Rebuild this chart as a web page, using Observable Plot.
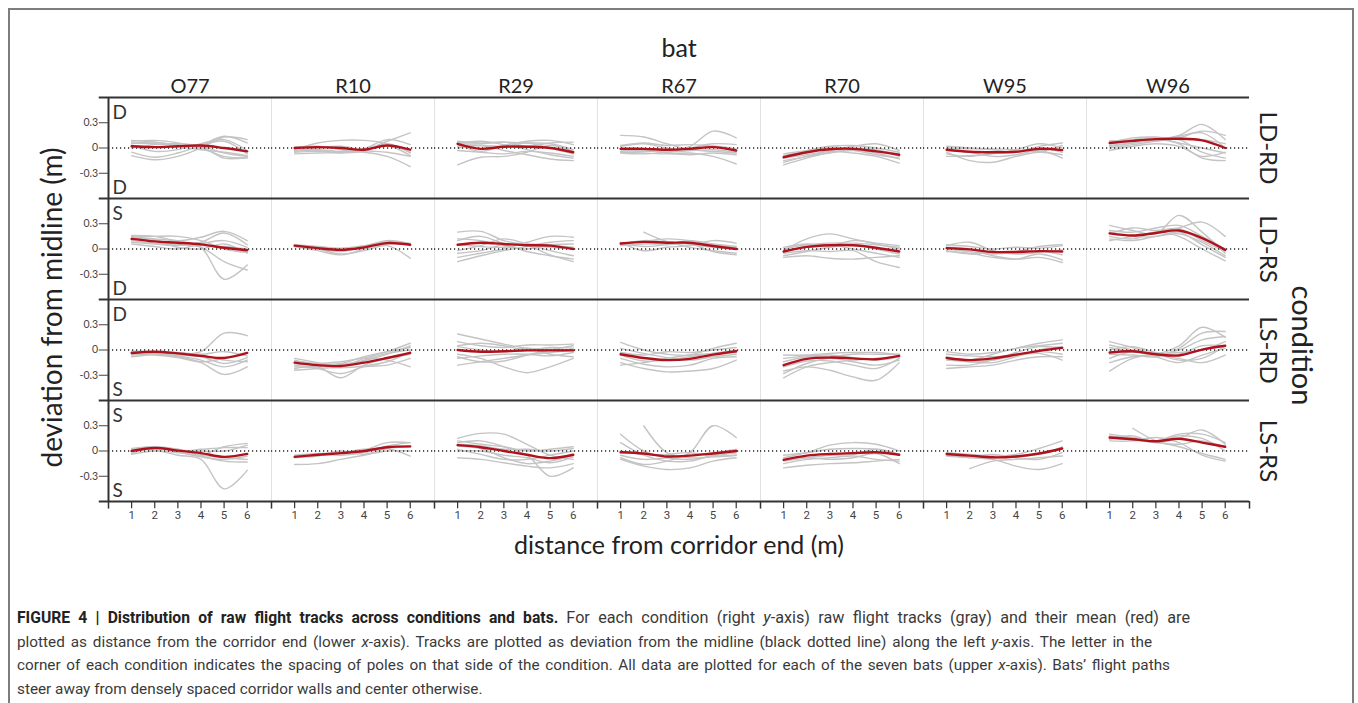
<!DOCTYPE html>
<html>
<head>
<meta charset="utf-8">
<script src="https://cdn.jsdelivr.net/npm/d3@7"></script>
<script src="https://cdn.jsdelivr.net/npm/@observablehq/plot@0.6"></script>
<style>
  html, body { margin: 0; padding: 0; background: #fff; overflow: hidden; width: 1358px; height: 703px; }
  #frame { position: absolute; left: 8px; top: 8px; width: 1346px; height: 740px; border: 2px solid #7d7d7d; box-sizing: border-box; }
  #chart { position: absolute; left: 0; top: 0; }
  #caption { position: absolute; left: 17px; top: 606px; font-family: Roboto, "Liberation Sans", sans-serif; font-size: 15.3px; line-height: 23.6px; color: #3a3a3a; }
  #caption .ln { white-space: nowrap; text-align: justify; text-align-last: justify; }
  #caption .last { text-align: left; text-align-last: left; }
  #caption b { color: #222; font-size: 15.7px; }
  #caption .wide { font-size: 16.2px; }
</style>
</head>
<body>
<div id="frame"></div>
<div id="chart"></div>
<div id="caption">
<div class="ln" style="width:1173px"><b>FIGURE 4 | Distribution of raw flight tracks across conditions and bats.</b> <span class="wide">For each condition (right <i>y</i>-axis) raw flight tracks (gray) and their mean (red) are</span></div>
<div class="ln" style="width:1135px">plotted as distance from the corridor end (lower <i>x</i>-axis). Tracks are plotted as deviation from the midline (black dotted line) along the left <i>y</i>-axis. The letter in the</div>
<div class="ln" style="width:1153px">corner of each condition indicates the spacing of poles on that side of the condition. All data are plotted for each of the seven bats (upper <i>x</i>-axis). Bats’ flight paths</div>
<div class="ln last">steer away from densely spaced corridor walls and center otherwise.</div>
</div>
<script>
// ---------- categories & tick labels ----------
const bats = ["O77", "R10", "R29", "R67", "R70", "W95", "W96"];
const conditions = ["LD-RD", "LD-RS", "LS-RD", "LS-RS"];
const distances = [1, 2, 3, 4, 5, 6];
const yTicks = [-0.3, 0, 0.3];
const yTickLabels = ["-0.3", "0", "0.3"];
const cornerTop = ["D", "S", "D", "S"];     // spacing letter, upper corner, per condition
const cornerBottom = ["D", "D", "S", "S"];  // spacing letter, lower corner, per condition

// ---------- raw tracks (m), per bat, per condition [LD-RD, LD-RS, LS-RD, LS-RS], values at distances 1..6 ----------
const tracksO77 = [
  [[0.09,0.07,0.04,0.02,-0.06,-0.1],[0.08,0.09,0.06,0.0,-0.1,-0.12],[-0.09,-0.14,-0.1,0.0,0.13,0.1],[-0.05,-0.11,-0.06,0.03,0.14,0.06],[0.06,0.05,0.03,0.04,0.08,-0.07],[0.03,-0.04,-0.02,0.05,0.1,-0.03],[0.0,0.04,0.05,0.02,-0.12,-0.11],[0.05,0.07,0.02,-0.02,-0.05,-0.09]],
  [[0.14,0.15,0.15,0.1,0.0,-0.04],[0.13,0.12,0.09,0.02,-0.36,-0.19],[0.1,0.07,0.05,0.02,-0.15,-0.25],[0.16,0.15,0.1,0.14,0.21,0.1],[0.08,0.06,0.04,0.08,0.19,0.05],[0.12,0.1,0.02,0.0,0.06,-0.05],[0.15,0.11,0.05,0.04,0.03,0.0],[0.06,0.03,0.0,0.06,0.1,0.02]],
  [[-0.02,-0.03,-0.05,-0.02,0.2,0.17],[-0.06,-0.05,-0.08,-0.15,-0.29,-0.2],[-0.03,-0.04,-0.07,-0.12,-0.2,-0.12],[-0.01,-0.02,-0.03,-0.05,-0.02,-0.07],[-0.05,-0.06,-0.09,-0.14,-0.1,-0.04],[-0.04,-0.02,-0.06,-0.08,-0.16,-0.09],[-0.08,-0.05,-0.04,-0.06,-0.12,-0.14]],
  [[0.02,0.01,-0.05,-0.1,-0.45,-0.23],[-0.03,0.04,0.02,-0.04,0.05,0.09],[0.03,0.05,0.02,-0.06,-0.12,-0.13],[0.0,0.03,0.01,0.0,0.0,0.07],[-0.04,0.0,-0.02,-0.05,-0.08,-0.1],[0.01,0.05,0.0,0.02,0.04,0.04],[0.02,0.04,-0.01,-0.07,-0.1,-0.06]]
];
const tracksR10 = [
  [[-0.02,0.06,0.09,0.09,0.05,-0.05],[0.0,-0.03,-0.05,-0.02,0.08,0.18],[-0.05,-0.04,-0.06,-0.05,-0.1,-0.22],[-0.07,-0.06,-0.05,-0.02,0.03,-0.09],[0.01,0.02,-0.02,-0.04,0.05,-0.06],[-0.04,-0.02,-0.04,-0.01,0.1,0.04],[-0.03,0.0,0.02,-0.03,-0.05,-0.1]],
  [[0.04,0.0,-0.06,-0.02,0.04,-0.11],[0.03,-0.02,-0.07,0.0,0.09,0.06],[0.05,0.03,0.01,0.04,0.08,0.04],[0.03,0.0,-0.03,0.03,0.1,0.06],[0.04,0.02,0.0,0.01,0.06,0.07]],
  [[-0.1,-0.15,-0.2,-0.1,-0.02,0.08],[-0.22,-0.2,-0.33,-0.18,-0.1,-0.05],[-0.18,-0.22,-0.28,-0.2,-0.18,-0.1],[-0.13,-0.16,-0.14,-0.1,-0.12,-0.2],[-0.2,-0.2,-0.17,-0.13,-0.05,0.05],[-0.16,-0.19,-0.21,-0.19,-0.14,-0.02],[-0.24,-0.22,-0.2,-0.12,-0.04,0.0],[-0.12,-0.17,-0.16,-0.08,-0.02,0.03]],
  [[-0.16,-0.15,-0.1,-0.05,0.0,0.0],[-0.08,-0.05,-0.03,0.01,0.1,0.1],[-0.07,-0.06,0.0,-0.04,0.03,0.05],[-0.06,-0.04,-0.05,-0.02,0.06,0.1],[-0.05,-0.03,-0.02,0.02,0.03,-0.06]]
];
const tracksR29 = [
  [[0.08,0.06,0.07,0.06,0.05,-0.02],[-0.2,-0.11,-0.1,-0.05,0.03,-0.04],[0.04,-0.04,0.03,0.08,0.09,0.04],[0.02,0.03,-0.03,-0.08,-0.13,-0.15],[0.06,0.08,0.04,-0.02,-0.08,-0.12],[-0.03,-0.05,-0.07,-0.04,-0.06,-0.1],[0.05,0.05,0.07,0.02,0.06,0.07],[0.0,0.03,0.02,0.06,0.0,-0.07]],
  [[0.2,0.21,0.1,0.05,0.02,0.0],[-0.15,-0.08,-0.02,0.03,0.08,0.1],[-0.1,-0.05,0.0,0.08,0.15,0.14],[0.1,0.15,0.06,-0.03,-0.08,-0.12],[-0.05,-0.02,0.05,0.04,-0.07,-0.15],[0.05,0.03,0.02,0.06,0.04,0.02],[-0.02,0.04,0.12,0.06,-0.02,-0.08],[0.12,0.1,0.04,0.0,0.05,0.06]],
  [[0.19,0.13,0.07,0.02,0.01,0.0],[-0.18,-0.14,-0.1,-0.06,-0.03,0.0],[-0.05,-0.1,-0.2,-0.27,-0.2,-0.1],[0.1,0.05,0.03,0.06,0.06,0.07],[-0.08,-0.14,-0.13,-0.06,0.0,0.05],[0.04,0.0,-0.02,0.02,-0.05,-0.08],[-0.1,-0.07,-0.05,-0.05,-0.07,-0.03],[0.05,0.08,0.05,0.0,0.03,0.02]],
  [[0.15,0.21,0.2,0.08,-0.05,-0.1],[0.1,0.12,0.05,-0.05,-0.3,-0.2],[-0.08,-0.1,-0.14,-0.18,-0.2,-0.15],[0.06,0.03,-0.08,-0.15,-0.12,-0.05],[0.02,-0.04,-0.1,-0.1,-0.05,0.0],[0.12,0.08,0.05,0.0,0.02,0.05],[0.0,0.0,-0.05,-0.08,-0.14,-0.07],[0.08,0.06,0.02,0.02,0.0,0.03]]
];
const tracksR67 = [
  [[0.15,0.13,0.05,-0.02,-0.04,-0.06],[-0.02,-0.04,-0.03,0.02,0.2,0.12],[-0.05,-0.06,-0.07,-0.06,-0.1,-0.19],[0.02,0.05,0.0,-0.03,-0.02,-0.05],[-0.04,-0.03,-0.05,0.0,0.05,0.04],[0.0,-0.02,-0.06,-0.08,-0.06,-0.08],[-0.06,-0.07,-0.05,-0.03,0.02,-0.01],[0.03,0.06,0.03,0.04,0.02,-0.04]],
  [[null,0.2,0.09,0.06,0.02,0.0],[0.05,0.09,0.12,0.1,0.05,0.02],[0.07,0.03,0.05,0.06,-0.03,-0.07],[0.08,-0.02,0.02,0.04,0.1,0.07],[0.06,0.1,0.08,0.02,-0.02,-0.05],[0.04,0.06,0.06,0.1,0.06,0.03]],
  [[0.09,0.0,-0.05,-0.06,0.02,0.08],[-0.15,-0.22,-0.26,-0.25,-0.22,-0.12],[-0.03,-0.06,-0.02,-0.03,0.0,0.03],[-0.1,-0.17,-0.2,-0.18,-0.1,-0.08],[-0.06,-0.13,-0.12,-0.08,-0.04,-0.03],[0.02,-0.04,-0.09,-0.12,-0.08,-0.05],[-0.18,-0.15,-0.1,-0.06,-0.04,0.0]],
  [[0.2,0.0,-0.08,-0.1,-0.06,-0.02],[null,0.3,-0.02,-0.08,-0.07,-0.05],[-0.08,-0.16,-0.12,-0.02,0.3,0.16],[-0.1,-0.18,-0.22,-0.2,-0.12,-0.08],[0.1,-0.05,-0.12,-0.12,-0.05,0.0],[-0.05,-0.1,-0.08,-0.05,-0.02,0.02],[0.0,-0.04,-0.04,-0.02,-0.06,-0.05]]
];
const tracksR70 = [
  [[-0.2,-0.12,-0.05,-0.02,-0.06,-0.13],[-0.07,-0.03,0.02,0.03,0.0,-0.05],[-0.15,-0.1,-0.03,0.02,0.05,-0.03],[-0.12,-0.08,-0.04,-0.06,-0.1,-0.18],[-0.09,-0.04,0.0,0.0,-0.02,-0.1],[-0.17,-0.1,-0.06,-0.03,-0.08,-0.12],[-0.1,-0.06,0.01,-0.01,-0.03,-0.07]],
  [[-0.02,0.12,0.18,0.12,0.06,0.0],[-0.1,-0.08,-0.11,-0.12,-0.1,-0.08],[-0.05,-0.02,-0.03,-0.02,-0.15,-0.22],[0.0,0.05,0.07,0.07,0.05,0.02],[-0.08,-0.03,0.02,0.05,0.0,-0.06],[-0.04,0.03,0.05,0.0,-0.05,-0.1],[0.02,0.06,0.04,0.1,0.07,0.04]],
  [[-0.33,-0.2,-0.15,-0.12,-0.1,-0.08],[-0.06,-0.06,-0.04,-0.03,-0.03,-0.06],[-0.25,-0.2,-0.24,-0.32,-0.36,-0.15],[-0.14,-0.08,-0.08,-0.05,-0.05,-0.05],[-0.2,-0.13,-0.13,-0.18,-0.22,-0.1],[-0.1,-0.07,-0.06,-0.09,-0.12,-0.08],[-0.28,-0.16,-0.1,-0.14,-0.18,-0.12]],
  [[-0.2,-0.17,-0.15,-0.14,-0.12,-0.1],[-0.08,-0.02,0.07,0.1,0.08,0.0],[-0.12,-0.08,-0.05,-0.04,0.02,-0.04],[-0.1,-0.08,-0.1,-0.08,-0.03,-0.15],[-0.05,-0.02,0.02,0.03,0.02,-0.05],[-0.15,-0.1,-0.08,-0.06,-0.1,-0.12]]
];
const tracksW95 = [
  [[-0.05,-0.15,-0.17,-0.1,-0.05,-0.08],[0.02,0.0,-0.02,-0.05,0.02,0.06],[-0.1,-0.09,-0.07,-0.02,0.05,0.0],[-0.03,-0.05,-0.1,-0.08,-0.03,-0.12],[0.0,-0.01,-0.01,-0.02,-0.04,0.03],[-0.07,-0.1,-0.06,-0.05,0.0,-0.05]],
  [[0.04,0.08,-0.02,-0.06,-0.04,-0.01],[0.02,0.0,-0.08,-0.12,-0.1,-0.16],[0.0,-0.03,-0.06,-0.03,0.03,0.05],[-0.03,-0.05,-0.1,-0.12,-0.06,-0.13],[0.05,0.03,0.0,0.02,0.01,0.04],[-0.02,-0.06,-0.04,-0.05,-0.02,-0.07]],
  [[-0.02,-0.05,-0.03,0.02,0.08,0.12],[-0.22,-0.2,-0.18,-0.12,-0.08,-0.08],[-0.12,-0.14,-0.15,-0.08,0.0,0.04],[-0.08,-0.12,-0.05,0.02,0.05,0.08],[-0.18,-0.18,-0.12,-0.07,-0.02,-0.05],[-0.05,-0.07,-0.08,-0.06,-0.04,-0.12],[-0.1,-0.14,-0.12,-0.03,0.04,0.02]],
  [[-0.02,-0.04,-0.06,-0.04,0.03,0.12],[null,-0.21,-0.12,-0.1,-0.08,-0.06],[-0.05,-0.08,-0.1,-0.18,-0.22,-0.15],[-0.03,-0.05,-0.08,-0.06,-0.04,0.05],[-0.06,-0.07,-0.04,-0.08,-0.1,-0.02]]
];
const tracksW96 = [
  [[0.05,0.08,0.1,0.15,0.28,0.1],[0.02,0.06,0.1,0.12,0.2,0.15],[0.08,0.1,0.12,0.05,-0.12,-0.15],[0.0,0.04,0.08,0.1,-0.05,-0.12],[0.06,0.12,0.13,0.1,0.1,0.05],[-0.03,0.02,0.05,0.02,-0.1,-0.05],[0.08,0.09,0.08,0.14,0.18,0.0],[0.03,0.06,0.1,0.06,0.0,-0.06]],
  [[0.28,0.22,0.18,0.4,0.2,-0.05],[0.1,0.15,0.2,0.25,0.32,0.15],[0.2,0.15,0.15,0.2,0.05,-0.1],[0.15,0.12,0.2,0.15,0.0,-0.14],[0.22,0.2,0.25,0.28,0.15,0.0],[0.12,0.1,0.15,0.18,0.08,-0.08],[0.18,0.25,0.22,0.24,0.1,-0.03]],
  [[0.1,0.03,-0.04,0.05,0.27,0.15],[-0.25,-0.1,-0.05,-0.03,0.0,0.1],[-0.05,-0.06,-0.08,0.02,0.2,0.22],[0.03,-0.02,-0.05,-0.12,-0.1,0.05],[-0.15,-0.08,-0.06,-0.1,-0.15,-0.06],[0.06,0.0,-0.05,0.0,0.12,0.16],[-0.1,-0.02,-0.08,-0.15,-0.06,0.02],[0.0,0.04,-0.03,-0.05,0.05,0.05]],
  [[0.14,0.18,0.1,0.15,0.25,0.08],[null,0.27,0.12,0.05,-0.03,-0.1],[0.18,0.15,0.12,0.2,0.2,0.1],[0.12,0.12,0.16,0.1,-0.05,-0.12],[0.15,0.13,0.1,0.08,0.12,0.04],[0.2,0.16,0.12,0.18,0.15,0.0]]
];

// ---------- mean tracks (m), per bat, per condition ----------
const meanO77 = [[0.02,0.01,0.02,0.03,0.0,-0.04],[0.12,0.09,0.075,0.055,0.015,-0.015],[-0.035,-0.02,-0.04,-0.07,-0.095,-0.035],[0.0,0.035,0.005,-0.025,-0.07,-0.035]];
const meanR10 = [[0.0,0.01,0.0,-0.02,0.03,-0.02],[0.04,0.01,-0.01,0.02,0.07,0.05],[-0.15,-0.18,-0.19,-0.15,-0.095,-0.035],[-0.07,-0.045,-0.025,0.0,0.045,0.055]];
const meanR29 = [[0.05,-0.01,0.015,0.015,0.0,-0.05],[0.05,0.075,0.06,0.045,0.04,0.0],[0.0,-0.02,-0.015,-0.005,-0.005,-0.005],[0.07,0.045,0.0,-0.045,-0.085,-0.045]];
const meanR67 = [[-0.01,-0.01,-0.02,-0.01,0.01,-0.03],[0.065,0.085,0.075,0.075,0.035,0.0],[-0.05,-0.095,-0.12,-0.105,-0.055,-0.015],[-0.015,-0.03,-0.065,-0.055,-0.03,0.0]];
const meanR70 = [[-0.11,-0.05,-0.015,-0.01,-0.04,-0.08],[-0.03,0.025,0.045,0.045,0.015,-0.03],[-0.18,-0.105,-0.09,-0.1,-0.11,-0.07],[-0.105,-0.055,-0.035,-0.025,-0.015,-0.045]];
const meanW95 = [[-0.02,-0.045,-0.05,-0.045,-0.01,-0.025],[0.01,-0.005,-0.035,-0.035,-0.025,-0.03],[-0.095,-0.12,-0.1,-0.055,-0.01,0.025],[-0.035,-0.055,-0.075,-0.065,-0.03,0.03]];
const meanW96 = [[0.06,0.085,0.105,0.11,0.09,0.0],[0.185,0.16,0.19,0.22,0.13,-0.01],[-0.03,-0.015,-0.05,-0.065,0.005,0.05],[0.16,0.14,0.115,0.145,0.1,0.05]];

// ---------- build tables ----------
const tracksByBat = {O77: tracksO77, R10: tracksR10, R29: tracksR29, R67: tracksR67, R70: tracksR70, W95: tracksW95, W96: tracksW96};
const meansByBat = {O77: meanO77, R10: meanR10, R29: meanR29, R67: meanR67, R70: meanR70, W95: meanW95, W96: meanW96};

const trackRows = [];
const meanRows = [];
bats.forEach(bat => conditions.forEach((condition, ci) => {
  tracksByBat[bat][ci].forEach((tr, ti) => tr.forEach((v, i) => {
    if (v !== null) trackRows.push({bat, condition, track: `${bat}|${condition}|${ti}`, x: distances[i], y: v});
  }));
  meansByBat[bat][ci].forEach((v, i) => meanRows.push({bat, condition, x: distances[i], y: v}));
}));

const cells = bats.flatMap(bat => conditions.map((condition, ci) => ({bat, condition, top: cornerTop[ci], bottom: cornerBottom[ci]})));
const firstCol = cells.filter(d => d.bat === bats[0]);
const lastCol = cells.filter(d => d.bat === bats[bats.length - 1]);
const topRow = cells.filter(d => d.condition === conditions[0]);
const bottomRow = cells.filter(d => d.condition === conditions[conditions.length - 1]);
const yTickRows = firstCol.flatMap(c => yTicks.map((t, i) => ({...c, t, label: yTickLabels[i]})));
const xTickRows = bottomRow.flatMap(c => distances.map(t => ({...c, t})));

const X0 = 0, X1 = 7.05;
const F = {fx: "bat", fy: "condition"};
const font = "Lato, 'Noto Sans', sans-serif";

const plot = Plot.plot({
  width: 1358,
  height: 590,
  marginLeft: 105,
  marginRight: 106,
  marginTop: 96,
  marginBottom: 88,
  fx: {domain: bats, padding: 0, axis: null},
  fy: {domain: conditions, padding: 0, axis: null},
  x: {domain: [X0, X1], axis: null},
  y: {domain: [-0.6, 0.6], axis: null},
  style: {fontFamily: font, background: "transparent", overflow: "visible"},
  marks: [
    // light column separators
    Plot.ruleX(cells.filter(d => d.bat !== bats[bats.length - 1]), {...F, x: X1, stroke: "#e2e2e2", strokeWidth: 1}),
    // raw tracks
    Plot.line(trackRows, {...F, x: "x", y: "y", z: "track", stroke: "#c4c4c4", strokeWidth: 1.4, curve: "catmull-rom"}),
    // midline
    Plot.ruleY(cells, {...F, y: 0, stroke: "#222", strokeWidth: 1.3, strokeDasharray: "1.2,2.8"}),
    // mean tracks
    Plot.line(meanRows, {...F, x: "x", y: "y", stroke: "#b0121d", strokeWidth: 2.4, curve: "catmull-rom"}),
    // row boundary lines
    Plot.ruleY(cells, {...F, y: 0.6, stroke: "#333", strokeWidth: 2}),
    Plot.ruleY(bottomRow, {...F, y: -0.6, stroke: "#333", strokeWidth: 2}),
    Plot.ruleY(firstCol, {...F, y: 0.6, x1: -0.4, x2: 0, stroke: "#333", strokeWidth: 2}),
    Plot.ruleY(bottomRow.filter(d => d.bat === bats[0]), {...F, y: -0.6, x1: -0.4, x2: 0, stroke: "#333", strokeWidth: 2}),
    // left axis
    Plot.ruleX(firstCol, {...F, x: 0, stroke: "#333", strokeWidth: 2}),
    Plot.ruleY(yTickRows, {...F, y: "t", x1: -0.4, x2: 0, stroke: "#444", strokeWidth: 1}),
    Plot.text(yTickRows, {...F, x: -0.45, y: "t", text: "label", textAnchor: "end", fontSize: 10.5, fill: "#444"}),
    // bottom axis
    Plot.ruleX(xTickRows, {...F, x: "t", y1: -0.6, y2: -0.685, stroke: "#333", strokeWidth: 1.2}),
    Plot.ruleX(bottomRow, {...F, x: 0, y1: -0.6, y2: -0.69, stroke: "#333", strokeWidth: 1.5}),
    Plot.ruleX(bottomRow.filter(d => d.bat === bats[bats.length - 1]), {...F, x: X1, y1: -0.6, y2: -0.69, stroke: "#333", strokeWidth: 1.5}),
    Plot.text(xTickRows, {...F, x: "t", y: -0.6, dy: 14, text: d => String(d.t), fontSize: 11.5, fill: "#444", fontFamily: "'Liberation Sans Narrow', 'Roboto', sans-serif"}),
    // corner spacing letters
    Plot.text(firstCol, {...F, frameAnchor: "top-left", dx: 4, dy: 8, lineAnchor: "top", textAnchor: "start", text: "top", fontSize: 19, fill: "#333"}),
    Plot.text(firstCol, {...F, frameAnchor: "bottom-left", dx: 4, dy: -5, lineAnchor: "bottom", textAnchor: "start", text: "bottom", fontSize: 19, fill: "#333"}),
    // bat labels (upper x axis)
    Plot.text(topRow, {...F, frameAnchor: "top", dy: -5, lineAnchor: "bottom", textAnchor: "middle", text: "bat", fontSize: 20, fill: "#222"}),
    // condition labels (right y axis)
    Plot.text(lastCol, {...F, frameAnchor: "right", dx: 18, rotate: 90, textAnchor: "middle", text: "condition", fontSize: 24, fill: "#222"}),
    // axis titles
    Plot.text(topRow.filter(d => d.bat === "R67"), {...F, frameAnchor: "top", dy: -58, textAnchor: "middle", text: () => "bat", fontSize: 25, fill: "#222"}),
    Plot.text(lastCol.filter(d => d.condition === "LS-RD"), {...F, frameAnchor: "top-right", dx: 63, dy: 46, rotate: 90, textAnchor: "middle", text: () => "condition", fontSize: 29, fill: "#222"}),
    Plot.text(firstCol.filter(d => d.condition === "LD-RS"), {...F, frameAnchor: "bottom-left", dx: -47, dy: 8, rotate: -90, textAnchor: "middle", text: () => "deviation from midline (m)", fontSize: 28, fill: "#222"}),
    Plot.text(bottomRow.filter(d => d.bat === "R67"), {...F, frameAnchor: "bottom", dy: 52, textAnchor: "middle", text: () => "distance from corridor end (m)", fontSize: 25, fill: "#222"})
  ]
});
document.getElementById("chart").appendChild(plot);
</script>
</body>
</html>
